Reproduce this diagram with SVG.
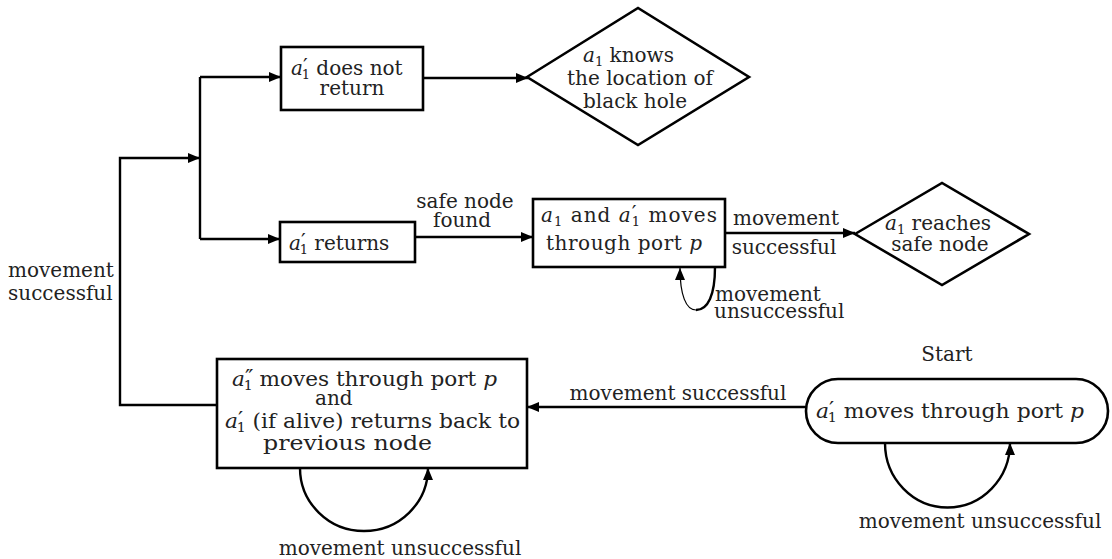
<svg xmlns="http://www.w3.org/2000/svg" width="1112" height="559" viewBox="0 0 1112 559">
<defs>
<marker id="ah" viewBox="0 0 12 10" refX="12" refY="5" markerWidth="12" markerHeight="10" markerUnits="userSpaceOnUse" orient="auto">
<path d="M0,0 L12,5 L0,10 z" fill="#000"/>
</marker>
</defs>
<style>
.n{fill:#fff;stroke:#000;stroke-width:2.6}
.c{fill:none;stroke:#000;stroke-width:2.4}
text{font-family:"DejaVu Serif",serif;font-size:20px;fill:#222}
.m{text-anchor:middle}
.i{font-style:italic}
.s{font-size:13px}
.p{font-size:21px}
</style>
<rect width="1112" height="559" fill="#fff"/>
<g id="connectors">
<polyline class="c" points="218,405 120,405 120,158 200,158" marker-end="url(#ah)"/>
<line class="c" x1="200" y1="77" x2="200" y2="239"/>
<line class="c" x1="200" y1="77" x2="281" y2="77" marker-end="url(#ah)"/>
<line class="c" x1="200" y1="239" x2="280" y2="239" marker-end="url(#ah)"/>
<line class="c" x1="423" y1="78" x2="528" y2="78" marker-end="url(#ah)"/>
<line class="c" x1="415" y1="237" x2="533" y2="237" marker-end="url(#ah)"/>
<line class="c" x1="725" y1="233" x2="855" y2="233" marker-end="url(#ah)"/>
<line class="c" x1="806" y1="407" x2="527" y2="407" marker-end="url(#ah)"/>
<path class="c" d="M715,267 C715,295 708,310 696,310"/>
<path fill="none" stroke="#000" stroke-width="1.2" d="M696,310 C686,310 680,295 680,268" marker-end="url(#ah)"/>
<path class="c" d="M300,468 A64,63 0 0 0 428,468" marker-end="url(#ah)"/>
<path class="c" d="M885,443 A62,64 0 0 0 1010,443" marker-end="url(#ah)"/>
<text class="m" x="465" y="208">safe node</text>
<text class="m" x="462" y="227">found</text>
<text class="m" x="786" y="225">movement</text>
<text class="m" x="784" y="254">successful</text>
<text x="715" y="301" font-size="19">movement</text>
<text x="714" y="318" font-size="19">unsuccessful</text>
<text x="8" y="277">movement</text>
<text x="8" y="300">successful</text>
<text class="m" x="678" y="400">movement successful</text>
<text class="m" x="400" y="555">movement unsuccessful</text>
<text class="m" x="980" y="528">movement unsuccessful</text>
</g>
<g id="n1">
<rect class="n" x="281" y="47" width="142" height="63"/>
<text x="291" y="75"><tspan class="i">a</tspan><tspan class="p" dy="-2">′</tspan><tspan class="s" dx="-6" dy="6">1</tspan><tspan dy="-4"> does not</tspan></text>
<text class="m" x="352" y="95">return</text>
</g>
<g id="n2">
<polygon class="n" points="527,77 638,8 749,77 638,145"/>
<text x="583" y="62"><tspan class="i">a</tspan><tspan class="s" dy="4">1</tspan><tspan dy="-4"> knows</tspan></text>
<text class="m" x="640" y="85">the location of</text>
<text class="m" x="635" y="108">black hole</text>
</g>
<g id="n3">
<rect class="n" x="280" y="222" width="135" height="40"/>
<text x="289" y="250"><tspan class="i">a</tspan><tspan class="p" dy="-2">′</tspan><tspan class="s" dx="-6" dy="6">1</tspan><tspan dy="-4"> returns</tspan></text>
</g>
<g id="n4">
<rect class="n" x="533" y="199" width="192" height="68"/>
<text x="541" y="222" textLength="176"><tspan class="i">a</tspan><tspan class="s" dy="4">1</tspan><tspan dy="-4"> and </tspan><tspan class="i">a</tspan><tspan class="p" dy="-2">′</tspan><tspan class="s" dx="-6" dy="6">1</tspan><tspan dy="-4"> moves</tspan></text>
<text x="546" y="250" textLength="156">through port <tspan class="i">p</tspan></text>
</g>
<g id="n5">
<polygon class="n" points="855,234 942,183 1029,234 942,285"/>
<text x="885" y="230"><tspan class="i">a</tspan><tspan class="s" dy="4">1</tspan><tspan dy="-4"> reaches</tspan></text>
<text class="m" x="940" y="251">safe node</text>
</g>
<g id="n6">
<rect class="n" x="217" y="359" width="310" height="109"/>
<text x="232" y="386" textLength="265" lengthAdjust="spacingAndGlyphs"><tspan class="i">a</tspan><tspan class="p" dy="-2">″</tspan><tspan class="s" dx="-9" dy="6">1</tspan><tspan dy="-4"> moves through port </tspan><tspan class="i">p</tspan></text>
<text x="315" y="405">and</text>
<text x="225" y="428" textLength="295" lengthAdjust="spacingAndGlyphs"><tspan class="i">a</tspan><tspan class="p" dy="-2">′</tspan><tspan class="s" dx="-6" dy="6">1</tspan><tspan dy="-4"> (if alive) returns back to</tspan></text>
<text x="263" y="450" textLength="169" lengthAdjust="spacingAndGlyphs">previous node</text>
</g>
<g id="n7">
<rect class="n" x="806" y="379" width="302" height="64" rx="32" ry="32"/>
<text class="m" x="947" y="361">Start</text>
<text x="816" y="418" textLength="268" lengthAdjust="spacingAndGlyphs"><tspan class="i">a</tspan><tspan class="p" dy="-2">′</tspan><tspan class="s" dx="-6" dy="6">1</tspan><tspan dy="-4"> moves through port </tspan><tspan class="i">p</tspan></text>
</g>
</svg>
